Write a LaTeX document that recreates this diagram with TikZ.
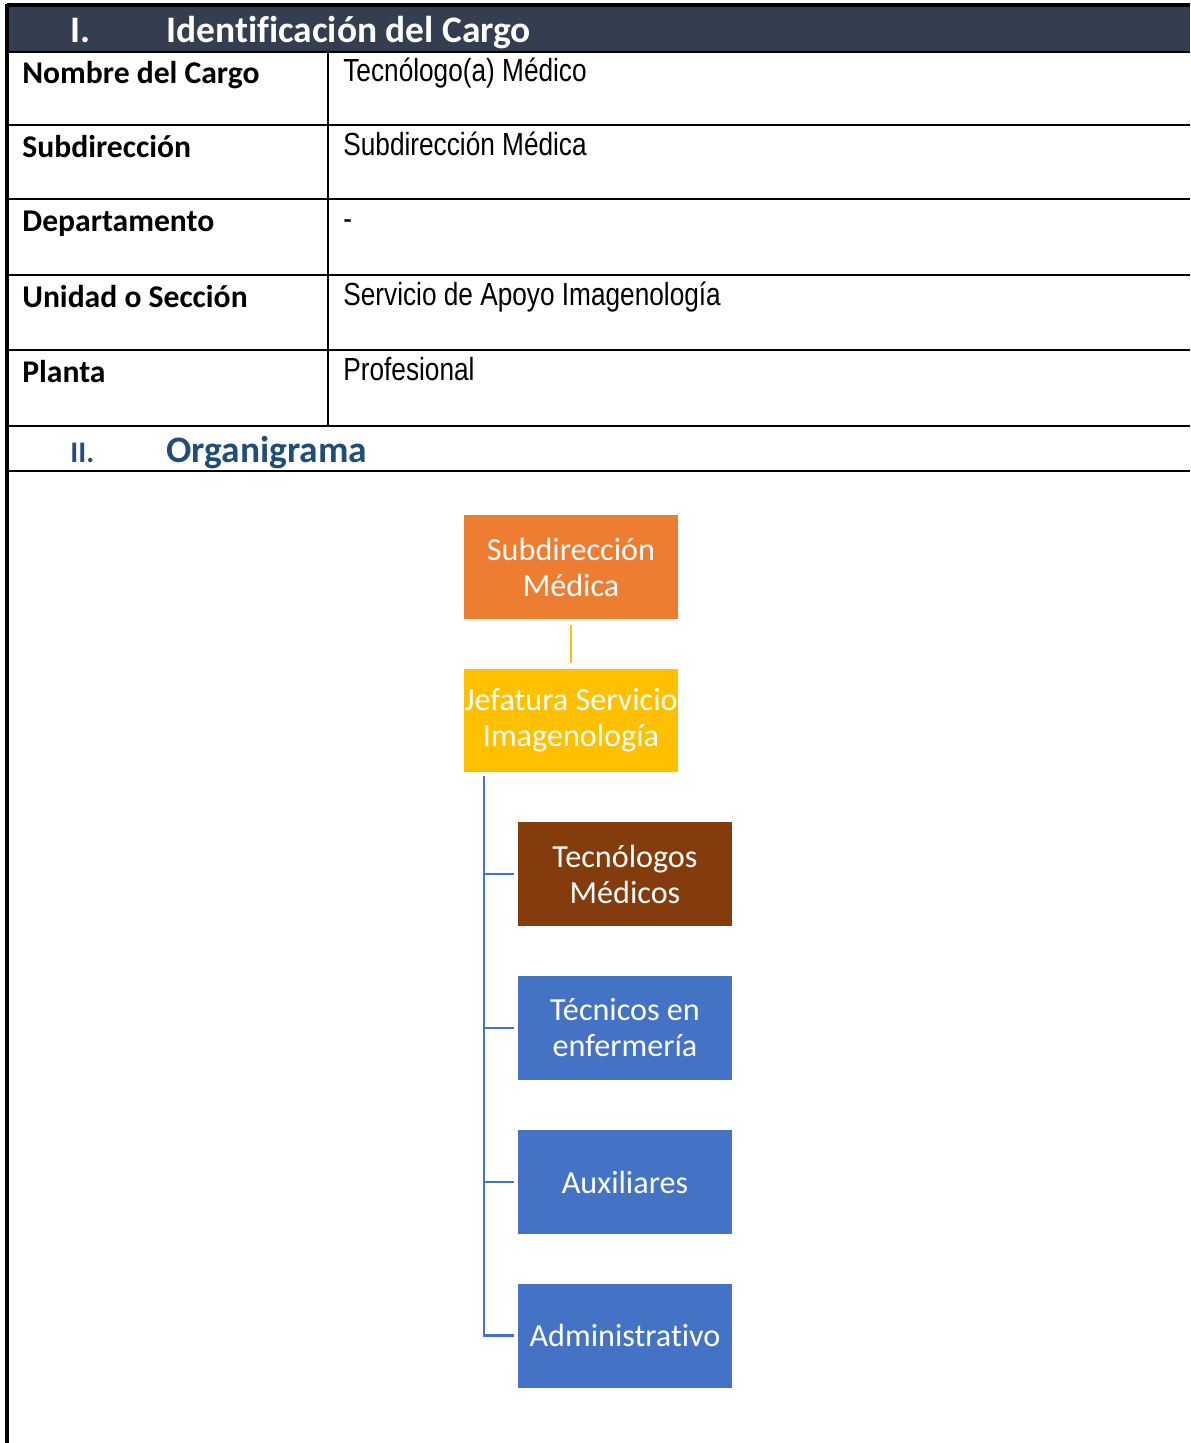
\documentclass[tikz,border=0pt]{standalone}
\usepackage{fontspec}
\setmainfont{Carlito}[Ligatures=NoCommon]
\newfontfamily\narrowfont[FakeStretch=0.82]{Liberation Sans}
\usetikzlibrary{positioning}
\definecolor{headbg}{RGB}{51,63,80}
\definecolor{secblue}{RGB}{31,78,121}
\definecolor{orgorange}{RGB}{237,125,49}
\definecolor{orgyellow}{RGB}{255,192,0}
\definecolor{orgbrown}{RGB}{132,60,12}
\definecolor{orgblue}{RGB}{68,114,196}

\begin{document}
\begin{tikzpicture}[x=0.02cm,y=-0.02cm,
  rule/.style={line width=2pt},
  title/.style={anchor=base west,inner sep=0pt,font=\bfseries\fontsize{21.3}{25}\selectfont},
  field/.style={anchor=base west,inner sep=0pt,font=\bfseries\fontsize{18}{21}\selectfont},
  value/.style={anchor=base west,inner sep=0pt,font=\narrowfont\fontsize{18.2}{21}\selectfont},
  box/.style={minimum width=4.28cm,minimum height=2.08cm,inner sep=0pt,align=center,
    text=white,font=\fontsize{18.3}{20.5}\selectfont},
  link/.style={line width=1.4pt}]
\useasboundingbox (0,0) rectangle (1190,1443);

% header
\fill[headbg] (7,5) rectangle (1190,52);
\draw[rule] (7,5) -- (1190,5);
\node[title,text=white] (t1) at (70,43) {I.};
\node[title,text=white] (t2) at (166,43) {Identificación del Cargo};

% table
\draw[rule] (7,4) -- (7,1443);
\foreach \y in {52,125,199,275,350,426,471}
  \draw[line width=1.3pt] (7,\y) -- (1190,\y);
\draw[line width=1.3pt] (328,52) -- (328,426);

\node[field] (f1) at (22,84) {Nombre del Cargo};
\node[field] (f2) at (22,157) {Subdirección};
\node[field] (f3) at (22,231) {Departamento};
\node[field] (f4) at (22,307) {Unidad o Sección};
\node[field] (f5) at (22,382) {Planta};

\node[value] (v1) at (343,82) {Tecnólogo(a) Médico};
\node[value] (v2) at (343,155) {Subdirección Médica};
\node[value] (v3) at (343,229) {-};
\node[value] (v4) at (343,305) {Servicio de Apoyo Imagenología};
\node[value] (v5) at (343,380) {Profesional};

% organigrama
\node[title,text=secblue,font=\bfseries\fontsize{17}{20}\selectfont] (s1) at (70,462) {II.};
\node[title,text=secblue] (s2) at (166,462) {Organigrama};

\node[box,fill=orgorange] (sub) at (571,567) {Subdirección\\Médica};
\node[box,fill=orgyellow] (jef) at (571,720.5) {Jefatura Servicio\\Imagenología};
\node[box,fill=orgbrown] (tec) at (625,874) {Tecnólogos\\Médicos};
\node[box,fill=orgblue] (enf) at (625,1028) {Técnicos en\\enfermería};
\node[box,fill=orgblue] (aux) at (625,1182) {Auxiliares};
\node[box,fill=orgblue] (adm) at (625,1335.5) {Administrativo};

\draw[link,orgyellow] ([yshift=-3pt]sub.south) -- ([yshift=3pt]jef.north);
\coordinate (trunk) at (484,776);
\draw[link,orgblue] (trunk) |- ([xshift=-2pt]tec.west);
\draw[link,orgblue] (trunk) |- ([xshift=-2pt]enf.west);
\draw[link,orgblue] (trunk) |- ([xshift=-2pt]aux.west);
\draw[link,orgblue] (trunk) |- ([xshift=-2pt]adm.west);
\end{tikzpicture}
\end{document}
